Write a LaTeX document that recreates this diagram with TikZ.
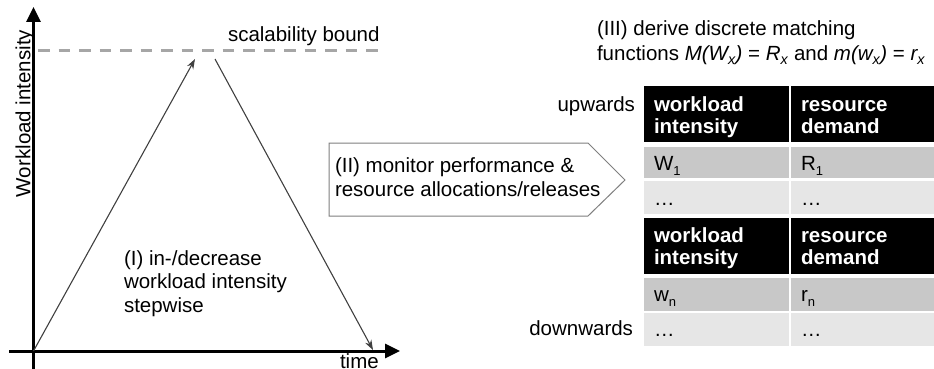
\documentclass[tikz,border=0pt]{standalone}
\usepackage{fontspec}
\setmainfont{Liberation Sans}
\usetikzlibrary{arrows.meta}
\definecolor{dashgray}{HTML}{A6A6A6}
\definecolor{arrgray}{HTML}{404040}
\definecolor{midgray}{HTML}{C8C8C8}
\definecolor{lightgray}{HTML}{E6E6E6}
\definecolor{bordergray}{HTML}{7F7F7F}
\newcommand{\mysub}[1]{\raisebox{-4.5pt}{\fontsize{13}{13}\selectfont #1}}
\tikzset{
  txt/.style={inner sep=0pt, outer sep=0pt, anchor=base west, font=\fontsize{20.5}{23.5}\selectfont},
  rtxt/.style={txt, anchor=base east},
  axis/.style={line width=3pt, -{Triangle[length=15pt,width=14pt]}},
  thinarrow/.style={draw=arrgray, line width=1.1pt, -{Stealth[length=10pt,width=7pt]}},
  headcell/.style={fill=black, draw=none},
  midcell/.style={fill=midgray, draw=none},
  lightcell/.style={fill=lightgray, draw=none},
  headtxt/.style={txt, text=white, font=\fontsize{20.5}{22}\selectfont\bfseries, align=left},
}
\begin{document}
\begin{tikzpicture}[x=1pt,y=-1pt]
\useasboundingbox (0,0) rectangle (934,369);
% axes
\coordinate (yb) at (33.5,372);
\coordinate (yt) at (33.5,7);
\coordinate (xl) at (9,351);
\coordinate (xr) at (400,351);
\coordinate (o) at (33.5,351);
\draw[axis] (yb) -- (yt);
\draw[axis] (xl) -- (xr);
% scalability bound
\coordinate (d1) at (38,50.5);
\coordinate (d2) at (379,50.5);
\draw[dashgray, line width=2.6pt, dash pattern=on 11.5pt off 9pt] (d1) -- (d2);
\node[txt] (sb) at (228,42) {scalability bound};
% ramp arrows
\coordinate (peak1) at (195,59);
\coordinate (peak2) at (215,59);
\coordinate (end) at (373,350);
\draw[thinarrow] (o) -- (peak1);
\draw[thinarrow] (peak2) -- (end);
\node[txt] (i1) at (124,265) {(I) in-/decrease};
\node[txt] (i2) at (124,288.5) {workload intensity};
\node[txt] (i3) at (124,312) {stepwise};
\node[txt, rotate=90] (ylab) at (30.5,197) {Workload intensity};
\node[txt] (time) at (340,368) {time};
% pentagon
\draw[bordergray, line width=1pt, fill=white] (329,143) -- (588,143) -- (625,180) -- (588,216) -- (329,216) -- cycle;
\node[txt] (m1) at (335,172) {(II) monitor performance \&};
\node[txt] (m2) at (335,196) {resource allocations/releases};
% title
\node[txt] (t1) at (597,36) {(III) derive discrete matching};
\node[txt] (t2) at (597,61) {functions \textit{M(W\textsubscript{x})} = \textit{R\textsubscript{x}} and \textit{m(w\textsubscript{x})} = \textit{r\textsubscript{x}}};
% table
\fill[headcell] (644,85.7) rectangle (789,142);
\fill[headcell] (791,85.7) rectangle (934,142);
\fill[midcell] (644,146.7) rectangle (789,178);
\fill[midcell] (791,146.7) rectangle (934,178);
\fill[lightcell] (644,180.7) rectangle (789,214);
\fill[lightcell] (791,180.7) rectangle (934,214);
\fill[headcell] (644,217.7) rectangle (789,274);
\fill[headcell] (791,217.7) rectangle (934,274);
\fill[midcell] (644,278) rectangle (789,310.7);
\fill[midcell] (791,278) rectangle (934,310.7);
\fill[lightcell] (644,312.7) rectangle (789,345.7);
\fill[lightcell] (791,312.7) rectangle (934,345.7);
\node[headtxt] (h1a) at (654,111.7) {workload};
\node[headtxt] (h1b) at (654,133.5) {intensity};
\node[headtxt] (h2a) at (801,111.7) {resource};
\node[headtxt] (h2b) at (801,133.5) {demand};
\node[txt] (w1) at (654,170.7) {W\mysub{1}};
\node[txt] (r1) at (801,170.7) {R\mysub{1}};
\node[txt] (e1) at (654,205) {…};
\node[txt] (e2) at (801,205) {…};
\node[headtxt] (h3a) at (654,242.7) {workload};
\node[headtxt] (h3b) at (654,264.5) {intensity};
\node[headtxt] (h4a) at (801,242.7) {resource};
\node[headtxt] (h4b) at (801,264.5) {demand};
\node[txt] (wn) at (654,301.7) {w\mysub{n}};
\node[txt] (rn) at (801,301.7) {r\mysub{n}};
\node[txt] (e3) at (654,336.7) {…};
\node[txt] (e4) at (801,336.7) {…};
\node[rtxt] (up) at (635,111) {upwards};
\node[rtxt] (down) at (633,335) {downwards};
\end{tikzpicture}
\end{document}
